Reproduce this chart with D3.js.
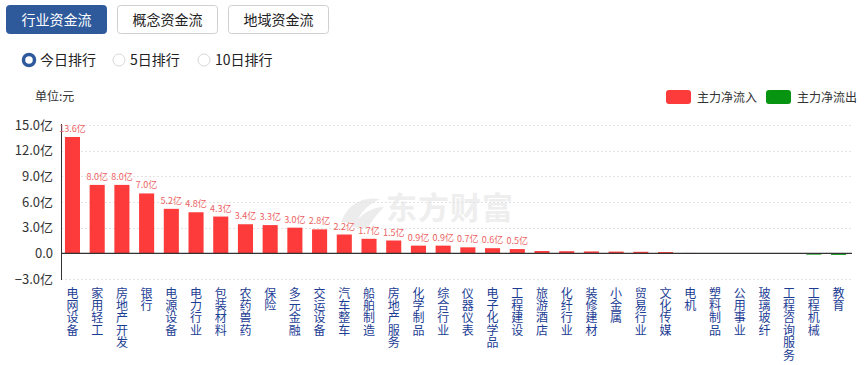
<!DOCTYPE html>
<html>
<head>
<meta charset="utf-8">
<script src="https://cdn.jsdelivr.net/npm/d3@7/dist/d3.min.js"></script>
<style>
html,body{margin:0;padding:0;background:#fff;}
svg{display:block;font-family:"Noto Sans CJK SC","Microsoft YaHei",sans-serif;}
</style>
</head>
<body>
<svg id="chart" width="867" height="365"></svg>
<script>
const categories = ["电网设备","家用轻工","房地产开发","银行","电源设备","电力行业","包装材料","农药兽药","保险","多元金融","交运设备","汽车整车","船舶制造","房地产服务","化学制品","综合行业","仪器仪表","电子化学品","工程建设","旅游酒店","化纤行业","装修建材","小金属","贸易行业","文化传媒","电机","塑料制品","公用事业","玻璃玻纤","工程咨询服务","工程机械","教育"];
const netFlow = [13.6,8.0,8.0,7.0,5.2,4.8,4.3,3.4,3.3,3.0,2.8,2.2,1.7,1.5,0.9,0.9,0.7,0.6,0.5,0.27,0.25,0.22,0.2,0.18,0.15,0.05,-0.02,-0.03,-0.05,-0.08,-0.15,-0.18];
const yTicks = [-3,0,3,6,9,12,15];
const tabs = ["行业资金流","概念资金流","地域资金流"];
const radios = ["今日排行","5日排行","10日排行"];
const legendItems = ["主力净流入","主力净流出"];

const RED = "#fd3b3b", GREEN = "#069411";
const svg = d3.select("#chart");

// tabs
const tabX = d3.scaleBand().domain(tabs).range([6, 328]).paddingInner(0.1);
tabs.forEach((t,i)=>{
  const g = svg.append("g");
  g.append("rect").attr("x", Math.round(tabX(t))+0.5).attr("y", 5.5).attr("width", Math.round(tabX.bandwidth())).attr("height", 28)
    .attr("rx", 3).attr("fill", i===0 ? "#2e5a9c" : "#fff").attr("stroke", i===0 ? "#2e5a9c" : "#d0d0d0");
  g.append("text").attr("x", tabX(t)+tabX.bandwidth()/2+0.5).attr("y", 25).attr("text-anchor","middle")
    .attr("font-size", 14).attr("fill", i===0 ? "#fff" : "#222").text(t);
});

// radios
const radioX = [29, 119, 204];
radios.forEach((r,i)=>{
  if(i===0){
    svg.append("circle").attr("cx", radioX[i]).attr("cy", 60).attr("r", 5.5).attr("fill","#fff").attr("stroke","#2e5a9c").attr("stroke-width",3.5);
  } else {
    svg.append("circle").attr("cx", radioX[i]).attr("cy", 60).attr("r", 6).attr("fill","#fff").attr("stroke","#d8d8d8").attr("stroke-width",1);
  }
  svg.append("text").attr("x", radioX[i]+11).attr("y", 65).attr("font-size", 14).attr("fill","#222").text(r);
});

// unit
svg.append("text").attr("x", 35).attr("y", 101).attr("font-size", 12).attr("fill","#333").text("单位:元");

// legend
const legColors = [RED, GREEN];
const legX = [666, 766];
legendItems.forEach((t,i)=>{
  svg.append("rect").attr("x", legX[i]).attr("y", 90).attr("width", 25).attr("height", 14).attr("rx", 3).attr("fill", legColors[i]);
  svg.append("text").attr("x", legX[i]+31).attr("y", 101.5).attr("font-size", 12).attr("fill","#333").text(t);
});

// scales
const x = d3.scaleBand().domain(categories).range([60, 851]).paddingInner(0.39).paddingOuter(0.2);
const y = d3.scaleLinear().domain([-3, 15]).range([279, 125]);

// watermark (background logo)
const wm = svg.append("g");
wm.append("path").attr("d", "M341,222 C348,204 362,196 380,199 C369,204 361,211 356,223 Z M352,227 C360,214 372,207 384,207 C377,214 371,222 367,229 Z")
  .attr("fill", "#ececec");
wm.append("text").attr("x", 386).attr("y", 219).attr("font-size", 31).attr("font-weight", "bold").attr("fill", "#eeeeee")
  .attr("letter-spacing", 1).text("东方财富");

// grid
const grid = svg.append("g");
yTicks.filter(d=>d!==0).forEach(d=>{
  grid.append("line").attr("x1", 61).attr("x2", 852).attr("y1", Math.round(y(d))+0.5).attr("y2", Math.round(y(d))+0.5)
    .attr("stroke", "#e3e3e3").attr("stroke-dasharray", "2,2");
});

// y axis
const yAxis = d3.axisLeft(y).tickValues(yTicks).tickSize(0).tickPadding(8)
  .tickFormat(d => d === 0 ? "0.0" : d3.format(".1f")(d) + "亿");
const ya = svg.append("g").attr("transform", "translate(61,0)").call(yAxis);
ya.select(".domain").remove();
ya.selectAll("text").attr("font-size", 13).attr("fill", "#333").attr("font-family", "\"Noto Sans CJK SC\", sans-serif");
svg.append("line").attr("x1", 61.5).attr("x2", 61.5).attr("y1", 124).attr("y2", 280).attr("stroke", "#333").attr("stroke-width", 1);

// bars
svg.append("g").selectAll("rect").data(categories).join("rect")
  .attr("x", d => x(d))
  .attr("width", x.bandwidth())
  .attr("y", (d,i) => Math.min(y(netFlow[i]), y(0)))
  .attr("height", (d,i) => Math.abs(y(netFlow[i]) - y(0)))
  .attr("fill", (d,i) => netFlow[i] >= 0 ? RED : GREEN)
  .attr("opacity", (d,i) => Math.abs(netFlow[i]) < 0.1 ? 0.45 : 1);

// zero line
svg.append("line").attr("x1", 61).attr("x2", 852).attr("y1", y(0)).attr("y2", y(0)).attr("stroke", "#333").attr("stroke-width", 1.2);

// bar value labels
svg.append("g").selectAll("text").data(categories.filter((d,i)=>netFlow[i] >= 0.5)).join("text")
  .attr("x", d => x(d) + x.bandwidth()/2)
  .attr("y", d => y(netFlow[categories.indexOf(d)]) - 5)
  .attr("text-anchor", "middle").attr("font-size", 9).attr("fill", "#ec6262")
  .text(d => d3.format(".1f")(netFlow[categories.indexOf(d)]) + "亿");

// x labels vertical, one character per line
const xl = svg.append("g");
categories.forEach(c=>{
  const t = xl.append("text").attr("text-anchor","middle").attr("font-size", 12).attr("fill", "#1c3d94");
  Array.from(c).forEach((ch,k)=>{
    t.append("tspan").attr("x", x(c) + x.bandwidth()/2).attr("y", 297.5 + k*12.4).text(ch);
  });
});
</script>
</body>
</html>
